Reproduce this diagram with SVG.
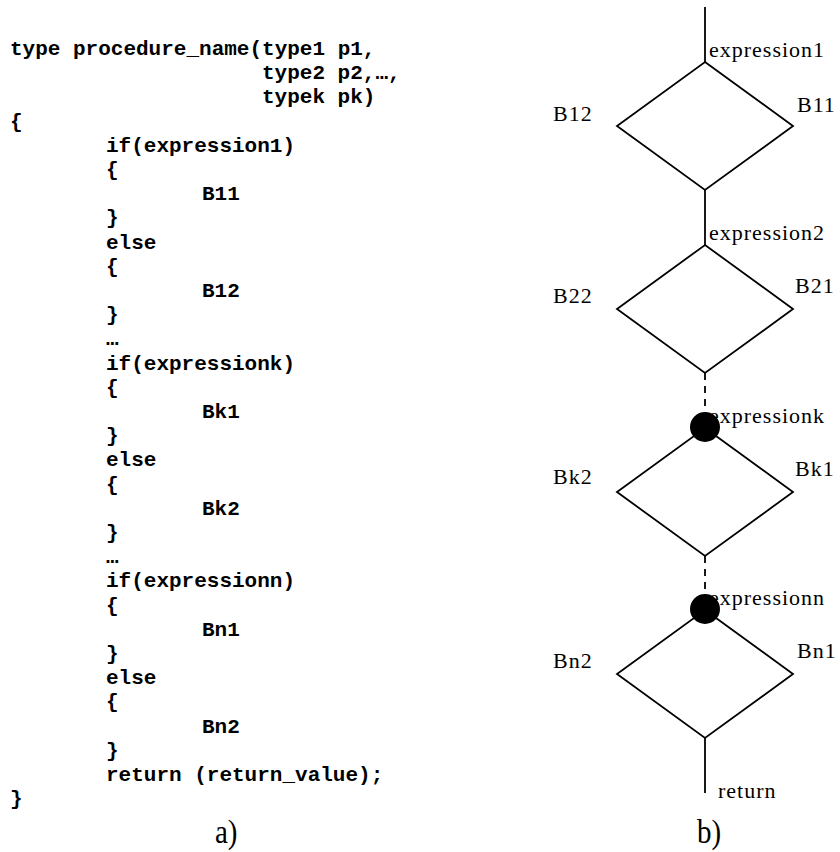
<svg xmlns="http://www.w3.org/2000/svg" width="840" height="852" viewBox="0 0 840 852">
<style>
.code{font-family:"Liberation Mono","Courier New",monospace;font-weight:bold;font-size:21px;fill:#000}
.lbl{font-family:"Liberation Serif","Times New Roman",serif;font-size:22px;letter-spacing:1px;fill:#000}
.cap{font-family:"Liberation Serif","Times New Roman",serif;font-size:29px;fill:#000}
.dia{fill:none;stroke:#000;stroke-width:1.8}
.ln{stroke:#000;stroke-width:1.8;fill:none}
.dash{stroke:#000;stroke-width:1.8;fill:none;stroke-dasharray:7 6}
</style>
<rect width="840" height="852" fill="#fff"/>
<g id="code">
<text class="code" x="10" y="55" xml:space="preserve">type procedure_name(type1 p1,</text>
<text class="code" x="262" y="79.2">type2 p2,…,</text>
<text class="code" x="262" y="103.4">typek pk)</text>
<text class="code" x="10" y="127.6">{</text>
<text class="code" x="106" y="151.8">if(expression1)</text>
<text class="code" x="106" y="176">{</text>
<text class="code" x="202" y="200.2">B11</text>
<text class="code" x="106" y="224.4">}</text>
<text class="code" x="106" y="248.6">else</text>
<text class="code" x="106" y="272.8">{</text>
<text class="code" x="202" y="297">B12</text>
<text class="code" x="106" y="321.2">}</text>
<text class="code" x="106" y="345.4">…</text>
<text class="code" x="106" y="369.6">if(expressionk)</text>
<text class="code" x="106" y="393.8">{</text>
<text class="code" x="202" y="418">Bk1</text>
<text class="code" x="106" y="442.2">}</text>
<text class="code" x="106" y="466.4">else</text>
<text class="code" x="106" y="490.6">{</text>
<text class="code" x="202" y="514.8">Bk2</text>
<text class="code" x="106" y="539">}</text>
<text class="code" x="106" y="563.2">…</text>
<text class="code" x="106" y="587.4">if(expressionn)</text>
<text class="code" x="106" y="611.6">{</text>
<text class="code" x="202" y="635.8">Bn1</text>
<text class="code" x="106" y="660">}</text>
<text class="code" x="106" y="684.2">else</text>
<text class="code" x="106" y="708.4">{</text>
<text class="code" x="202" y="732.6">Bn2</text>
<text class="code" x="106" y="756.8">}</text>
<text class="code" x="106" y="781" xml:space="preserve">return (return_value);</text>
<text class="code" x="10" y="805.2">}</text>
<text class="cap" transform="translate(215,843) scale(1,1.15)">a)</text>
</g>
<g id="connectors">
<line class="ln" x1="705" y1="7" x2="705" y2="62"/>
<line class="ln" x1="705" y1="190" x2="705" y2="245"/>
<line class="dash" x1="705" y1="373" x2="705" y2="428"/>
<line class="dash" x1="705" y1="556" x2="705" y2="610"/>
<line class="ln" x1="705" y1="738" x2="705" y2="793"/>
</g>
<g id="decision1">
<polygon class="dia" points="705,62 793,126 705,190 617,126"/>
<text class="lbl" x="709" y="57">expression1</text>
<text class="lbl" x="797" y="112">B11</text>
<text class="lbl" x="553" y="121">B12</text>
</g>
<g id="decision2">
<polygon class="dia" points="705,245 793,309 705,373 617,309"/>
<text class="lbl" x="709" y="240">expression2</text>
<text class="lbl" x="795" y="293">B21</text>
<text class="lbl" x="553" y="303">B22</text>
</g>
<g id="decisionk">
<text class="lbl" x="709" y="423">expressionk</text>
<polygon class="dia" points="705,428 793,492 705,556 617,492"/>
<circle cx="705" cy="427" r="15" fill="#000"/>
<text class="lbl" x="795" y="476">Bk1</text>
<text class="lbl" x="553" y="484">Bk2</text>
</g>
<g id="decisionn">
<text class="lbl" x="709" y="605">expressionn</text>
<polygon class="dia" points="705,610 793,674 705,738 617,674"/>
<circle cx="705" cy="609" r="15" fill="#000"/>
<text class="lbl" x="797" y="658">Bn1</text>
<text class="lbl" x="553" y="668">Bn2</text>
</g>
<g id="return">
<text class="lbl" x="718" y="798">return</text>
</g>
<text class="cap" transform="translate(697,843) scale(1,1.15)">b)</text>
</svg>
